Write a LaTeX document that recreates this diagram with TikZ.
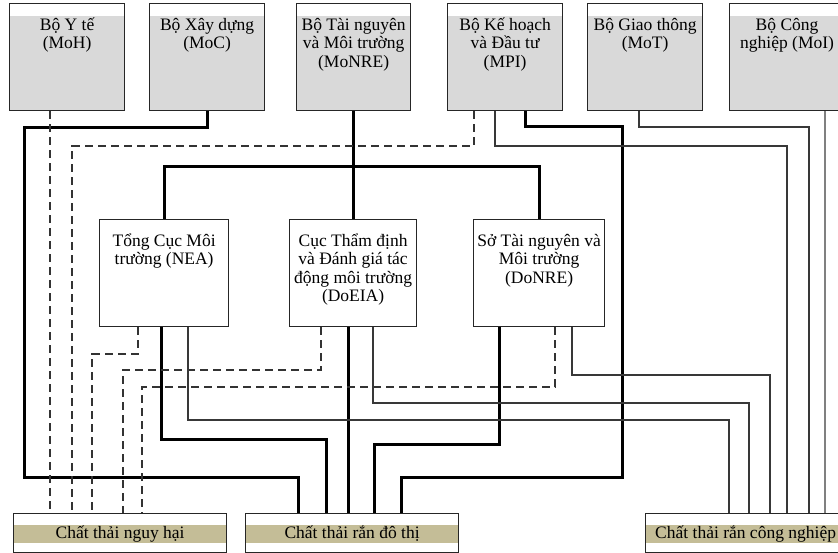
\documentclass[tikz,border=0pt]{standalone}
\usepackage{fontspec}
\setmainfont{Liberation Serif}
\usetikzlibrary{calc}
\definecolor{topgray}{HTML}{D9D9D9}
\definecolor{tanband}{HTML}{C4BD97}
\newcommand\tstrut{\rule{0pt}{18pt}}
\AtBeginDocument{\lineskiplimit=-50pt\relax}
\begin{document}
\begin{tikzpicture}[x=1pt,y=-1pt,
  box/.style={draw=black!85, line width=1.2pt, rectangle, inner sep=0pt, anchor=north west},
  topbox/.style={box, minimum width=115pt, minimum height=107pt, fill=topgray,
    path picture={\fill[white] (path picture bounding box.north west) rectangle ([yshift=-12pt]path picture bounding box.north east);}},
  midbox/.style={box, minimum height=107pt, fill=white},
  botbox/.style={box, minimum width=213pt, minimum height=39pt, fill=white,
    path picture={\fill[tanband] ([yshift=-11pt]path picture bounding box.north west) rectangle ([yshift=-29pt]path picture bounding box.north east);}},
  lbl/.style={inner sep=0pt, align=center, anchor=north,
    font=\fontsize{17.5}{18.5}\selectfont},
  blbl/.style={inner sep=0pt, anchor=base, font=\fontsize{17.5}{18.5}\selectfont},
  thk/.style={line width=3pt, black},
  thn/.style={line width=1.3pt, black!78},
  thngray/.style={line width=1.3pt, black!50},
  dsh/.style={line width=1.5pt, black!80, dash pattern=on 8pt off 5pt}
]
\useasboundingbox (0,0) rectangle (838,553);
% top boxes
\node[topbox] (moh) at (9,3) {};
\node[topbox] (moc) at (149,3) {};
\node[topbox, minimum width=114pt] (monre) at (296,3) {};
\node[topbox] (mpi) at (447,3) {};
\node[topbox] (mot) at (587,3) {};
\node[topbox] (moi) at (729,3) {};
\node[lbl] (moh-t) at ($(moh.north)+(0,9)$) {\tstrut Bộ Y tế\\(MoH)};
\node[lbl] (moc-t) at ($(moc.north)+(0,9)$) {\tstrut Bộ Xây dựng\\(MoC)};
\node[lbl] (monre-t) at ($(monre.north)+(0,9)$) {\tstrut Bộ Tài nguyên\\và Môi trường\\(MoNRE)};
\node[lbl] (mpi-t) at ($(mpi.north)+(0,9)$) {\tstrut Bộ Kế hoạch\\và Đầu tư\\(MPI)};
\node[lbl] (mot-t) at ($(mot.north)+(0,9)$) {\tstrut Bộ Giao thông\\(MoT)};
\node[lbl] (moi-t) at ($(moi.north)+(0,9)$) {\tstrut Bộ Công\\nghiệp (MoI)};
% middle boxes
\node[midbox, minimum width=129pt] (nea) at (99,219) {};
\node[midbox, minimum width=127pt] (doeia) at (289,219) {};
\node[midbox, minimum width=131pt] (donre) at (473,219) {};
\node[lbl] (nea-t) at ($(nea.north)+(0,9)$) {\tstrut Tổng Cục Môi\\trường (NEA)};
\node[lbl] (doeia-t) at ($(doeia.north)+(0,9)$) {\tstrut Cục Thẩm định\\và Đánh giá tác\\động môi trường\\(DoEIA)};
\node[lbl] (donre-t) at ($(donre.north)+(0,9)$) {\tstrut Sở Tài nguyên và\\Môi trường\\(DoNRE)};
% bottom boxes
\node[botbox] (haz) at (13,513) {};
\node[botbox] (urban) at (245,513) {};
\node[botbox, minimum width=200pt] (ind) at (645,513) {};
\node[blbl] (haz-t) at ($(haz.north)+(0,25)$) {Chất thải nguy hại};
\node[blbl] (urban-t) at ($(urban.north)+(0,25)$) {Chất thải rắn đô thị};
\node[blbl] (ind-t) at ($(ind.north)+(0,25)$) {Chất thải rắn công nghiệp};
% thick connectors
\coordinate (j) at ($(monre.south)+(0,55)$);
\draw[thk] (monre.south) -- (j);
\draw[thk] (nea.north) |- (j) -| (donre.north);
\draw[thk] (j) -- (j |- doeia.north);
\draw[thk] (moc.south) |- (24,128) -- (24,477) -| ($(urban.north west)+(53,0)$);
\draw[thk] ($(mpi.south west)+(78,0)$) |- (622,127) |- (401,477) -- ($(urban.north west)+(156,0)$);
\draw[thk] ($(nea.south west)+(62,0)$) |- (326,439) -- ($(urban.north west)+(81,0)$);
\draw[thk] ($(doeia.south west)+(59,0)$) -- ($(urban.north west)+(103,0)$);
\draw[thk] ($(donre.south west)+(26,0)$) |- (374,444) -- ($(urban.north west)+(129,0)$);
% dashed connectors
\draw[dsh] ($(moh.south west)+(41,0)$) -- ($(haz.north west)+(37,0)$);
\draw[dsh] ($(mpi.south west)+(27,0)$) |- (72,146) -- ($(haz.north west)+(59,0)$);
\draw[dsh] ($(nea.south west)+(39,0)$) |- (92,354) -- ($(haz.north west)+(79,0)$);
\draw[dsh] ($(doeia.south west)+(32,0)$) |- (123,370) -- ($(haz.north west)+(110,0)$);
\draw[dsh] ($(donre.south west)+(82,0)$) |- (142,387) -- ($(haz.north west)+(129,0)$);
% thin connectors
\draw[thn] ($(mpi.south west)+(48,0)$) |- (787,146) -- ($(ind.north west)+(142,0)$);
\draw[thn] ($(mot.south west)+(52,0)$) |- (809,127) -- ($(ind.north west)+(164,0)$);
\draw[thngray] ($(moi.south west)+(96,0)$) -- ($(ind.north west)+(180,0)$);
\draw[thn] ($(nea.south west)+(89,0)$) |- (729,420) -- ($(ind.north west)+(84,0)$);
\draw[thn] ($(doeia.south west)+(84,0)$) |- (749,403) -- ($(ind.north west)+(104,0)$);
\draw[thn] ($(donre.south west)+(99,0)$) |- (770,375) -- ($(ind.north west)+(125,0)$);
\end{tikzpicture}
\end{document}
